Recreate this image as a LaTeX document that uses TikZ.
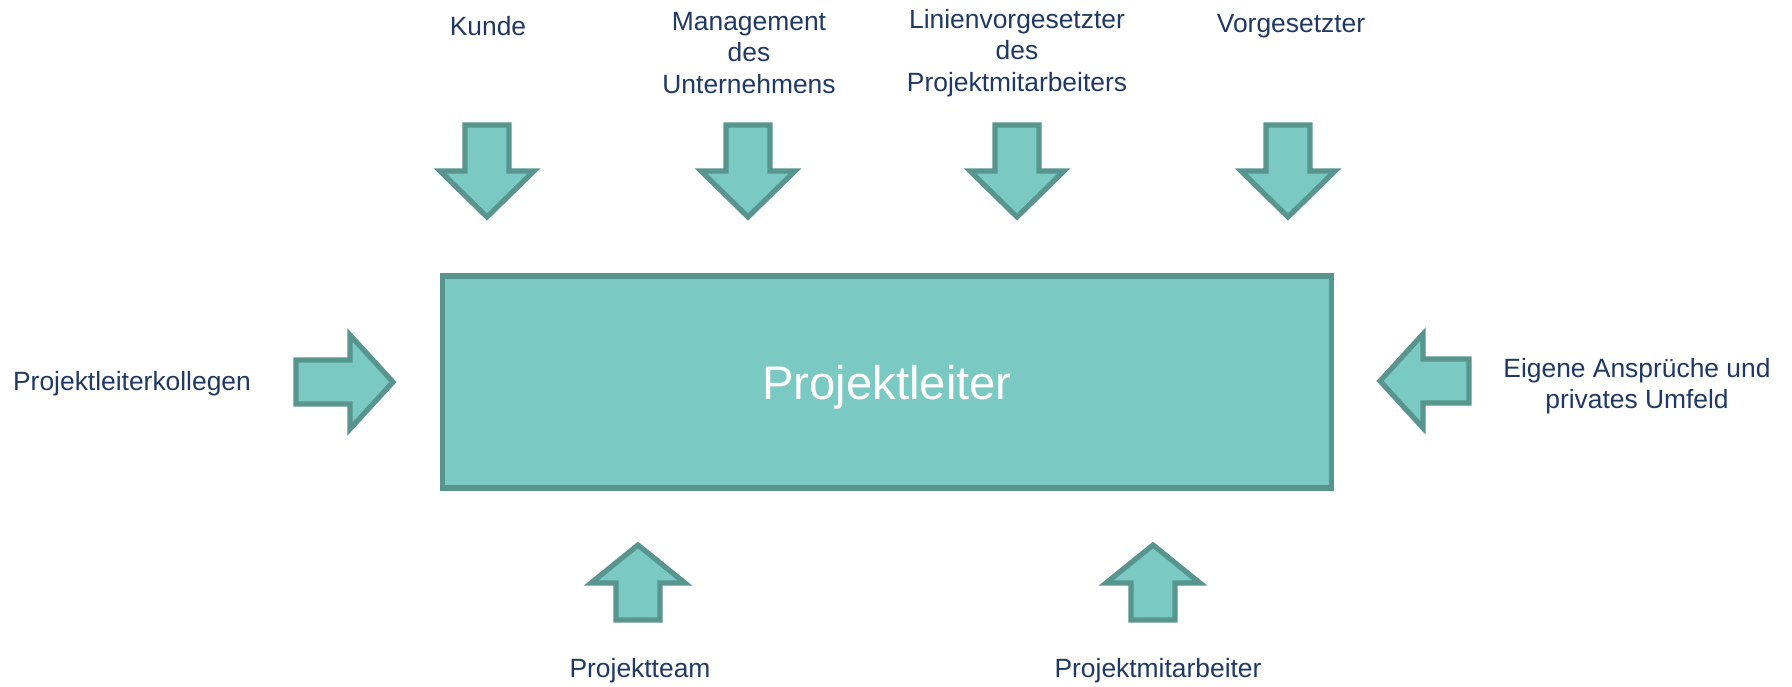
\documentclass[tikz,border=0pt]{standalone}
\usepackage{fontspec}
\setmainfont{Liberation Sans}

\definecolor{tuerkis}{HTML}{7AC9C3}
\definecolor{tuerkisrand}{HTML}{58958F}
\definecolor{textblau}{HTML}{1F3864}

\tikzset{rand/.style = {draw=tuerkisrand, fill=tuerkis, line width=2.6pt},
         etikett/.style = {text=textblau, align=center, inner sep=0pt,
                           font=\fontsize{13.2}{15.6}\selectfont},
         % Blockpfeil: Laenge/Kopflaenge, Schaft beginnt bei (0,0)
         pics/pfeil/.style args = {#1/#2}{code = {
            \draw[rand] (0,-22) -- (#1-#2,-22) -- (#1-#2,-47) -- (#1,0)
                        -- (#1-#2,47) -- (#1-#2,22) -- (0,22) -- cycle;}}
        }

\begin{document}
\begin{tikzpicture}[x=0.5pt,y=-0.5pt]
  \useasboundingbox (0,0) rectangle (1792,686);

  \node[rand, minimum width=444.5pt, minimum height=106pt, text=white,
        text depth=0pt, font=\fontsize{23.6}{28}\selectfont] (pl) at (887,382) {Projektleiter};

  % oben
  \node[etikett] (kunde) at (488,26) {Kunde};
  \node[etikett] (mgmt) at (749,53) {Management\\des\\Unternehmens};
  \node[etikett] (linie) at (1017,53) {Linienvorgesetzter\\des\\Projektmitarbeiters};
  \node[etikett] (vorg) at (1291,26) {Vorgesetzter};
  \foreach \x in {487,748,1017,1288}
    \pic[rotate=-90] at (\x,125) {pfeil=92/46};

  % links und rechts
  \node[etikett] (kollegen) at (132,384) {Projektleiterkollegen};
  \node[etikett] (eigene) at (1637,386) {Eigene Ansprüche und\\privates Umfeld};
  \pic at (296,382) {pfeil=97/43};
  \pic[rotate=180] at (1469,381) {pfeil=89/43};

  % unten
  \node[etikett] (team) at (640,671) {Projektteam};
  \node[etikett] (mitarb) at (1158,671) {Projektmitarbeiter};
  \foreach \x in {638,1153}
    \pic[rotate=90] at (\x,620) {pfeil=75/38};
\end{tikzpicture}
\end{document}
